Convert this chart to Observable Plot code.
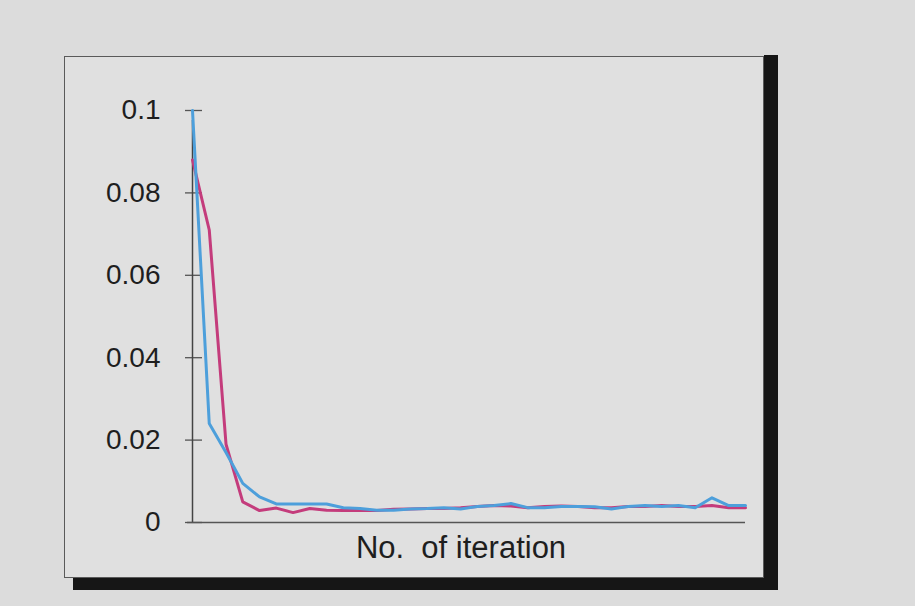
<!DOCTYPE html>
<html>
<head>
<meta charset="utf-8">
<script src="https://cdn.jsdelivr.net/npm/d3@7"></script>
<script src="https://cdn.jsdelivr.net/npm/@observablehq/plot@0.6"></script>
<style>
  html, body { margin: 0; padding: 0; background: #dcdcdc; width: 915px; height: 606px; overflow: hidden; }
  #wrap { position: relative; width: 915px; height: 606px; }
  #shadow { position: absolute; left: 73px; top: 55px; width: 691px; height: 523px;
            border-right: 14px solid #161616; border-bottom: 12px solid #161616; }
  #box { position: absolute; left: 64px; top: 56px; width: 698px; height: 520px;
         border: 1.5px solid #5a5a5a; background: #e0e0e0; }
  #chart { position: absolute; left: 0; top: 0; }
</style>
</head>
<body>
<div id="wrap">
  <div id="shadow"></div>
  <div id="box"></div>
  <div id="chart"></div>
</div>
<script>
const iterations = [0,1,2,3,4,5,6,7,8,9,10,11,12,13,14,15,16,17,18,19,20,21,22,23,24,25,26,27,28,29,30,31,32,33];
const blueSeries = [0.1, 0.024, 0.017, 0.0095, 0.0062, 0.0045, 0.0045, 0.0045, 0.0045, 0.0036, 0.0034, 0.003, 0.003, 0.0033, 0.0034, 0.0036, 0.0033, 0.0039, 0.0041, 0.0046, 0.0036, 0.0036, 0.0039, 0.0039, 0.0038, 0.0033, 0.0039, 0.0041, 0.0039, 0.0041, 0.0036, 0.006, 0.0041, 0.0041];
const magentaSeries = [0.088, 0.071, 0.019, 0.005, 0.0029, 0.0035, 0.0024, 0.0034, 0.003, 0.0029, 0.0029, 0.0029, 0.0032, 0.0033, 0.0034, 0.0034, 0.0036, 0.0039, 0.0041, 0.004, 0.0036, 0.0039, 0.004, 0.0039, 0.0036, 0.0036, 0.0039, 0.0039, 0.0041, 0.0039, 0.0039, 0.0041, 0.0036, 0.0036];
const yTicks = [0, 0.02, 0.04, 0.06, 0.08, 0.1];
const yTickLabels = ["0", "0.02", "0.04", "0.06", "0.08", "0.1"];
const xLabel = "No.  of iteration";
const seriesNames = ["Series A", "Series B"];
const seriesColors = ["#c43c7c", "#4d9fdb"];

const rows = [];
iterations.forEach((it, i) => rows.push({it, v: magentaSeries[i], s: seriesNames[0]}));
iterations.forEach((it, i) => rows.push({it, v: blueSeries[i], s: seriesNames[1]}));

const chart = Plot.plot({
  width: 915,
  height: 606,
  marginLeft: 192,
  marginRight: 170,
  marginTop: 110,
  marginBottom: 84,
  style: { background: "transparent", fontFamily: "Liberation Sans, Arial, sans-serif", color: "#1e1e1e", overflow: "visible" },
  x: { domain: [0, 33], axis: null },
  y: { domain: [0, 0.1] },
  color: { domain: seriesNames, range: seriesColors },
  marks: [
    Plot.axisY(yTicks, {
      tickSize: 17, dx: 10, tickPadding: 25,
      tickFormat: (d) => yTickLabels[yTicks.indexOf(d)],
      fontSize: 28, stroke: "#555", strokeWidth: 1.3, label: null
    }),
    Plot.ruleX([0], { y1: 0, y2: 0.1, insetBottom: -10, stroke: "#444", strokeWidth: 1.5 }),
    Plot.ruleY([0], { x1: 0, x2: 33, insetLeft: -5, stroke: "#555", strokeWidth: 1.5 }),
    Plot.lineY(rows, { x: "it", y: "v", z: "s", stroke: "s", strokeWidth: 3 }),
    Plot.text([xLabel], { frameAnchor: "bottom", dy: 35, dx: -8, fontSize: 31, fill: "#1e1e1e" })
  ]
});
document.getElementById("chart").appendChild(chart);
</script>
</body>
</html>
